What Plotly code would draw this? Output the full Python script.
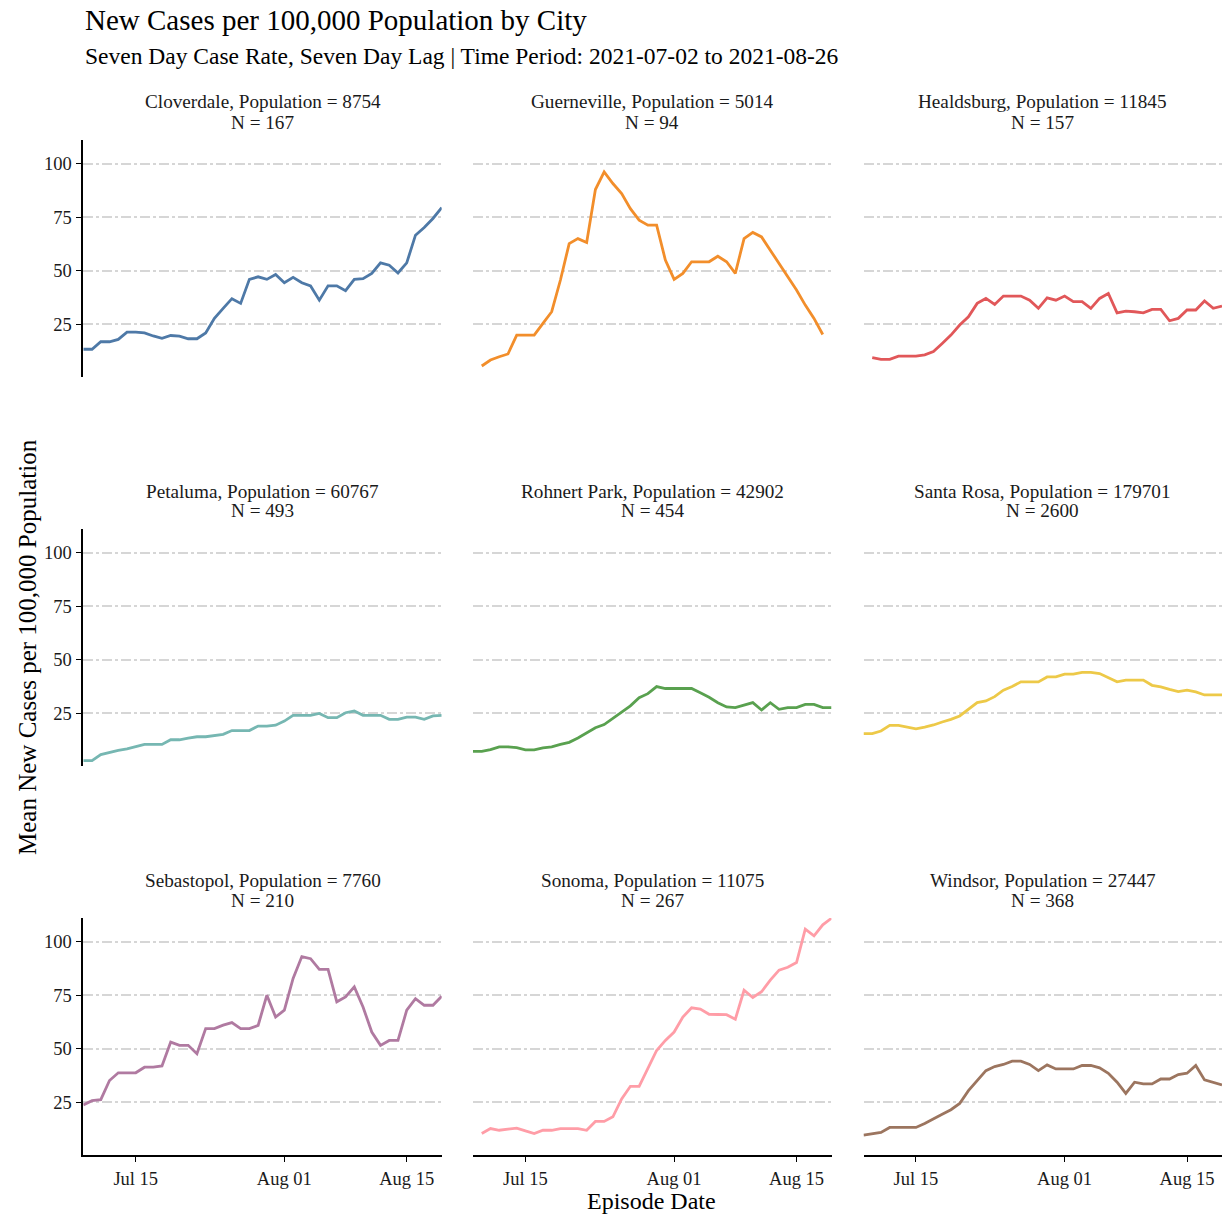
import pandas as pd
import plotly.graph_objects as go

# ---------------- data ----------------
dates = pd.date_range("2021-07-09", "2021-08-19", freq="D").strftime("%Y-%m-%d").tolist()

cities = ["Cloverdale", "Guerneville", "Healdsburg",
          "Petaluma", "Rohnert Park", "Santa Rosa",
          "Sebastopol", "Sonoma", "Windsor"]
populations = [8754, 5014, 11845, 60767, 42902, 179701, 7760, 11075, 27447]
case_counts = [167, 94, 157, 493, 454, 2600, 210, 267, 368]

cloverdale = [13.4, 13.4, 16.9, 16.9, 18.0, 21.4, 21.4, 21.0, 19.6, 18.5,
              19.8, 19.5, 18.3, 18.3, 21.0, 27.8, 32.5, 37.0, 34.8, 46.0,
              47.2, 46.0, 48.3, 44.4, 46.9, 44.4, 42.9, 36.3, 43.0, 43.0,
              40.7, 46.0, 46.3, 48.8, 53.7, 52.6, 49.0, 53.7, 66.6, 70.2,
              74.4, 79.5]
guerneville = [None, 5.6, 8.4, 9.9, 11.2, 20.0, 20.0, 20.0, 25.5, 30.9,
               45.7, 62.7, 65.0, 63.2, 87.9, 96.1, 90.7, 86.0, 79.0, 73.6,
               71.3, 71.3, 55.0, 46.0, 48.8, 54.2, 54.2, 54.2, 56.8, 54.2,
               48.8, 65.0, 67.9, 65.8, 59.6, 53.4, 46.9, 41.0, 34.0, 27.8,
               20.3, None]
healdsburg = [None, 9.5, 8.7, 8.7, 10.2, 10.2, 10.2, 10.8, 12.3, 16.1,
              20.0, 24.7, 28.5, 34.8, 37.1, 34.3, 38.2, 38.2, 38.2, 36.3,
              32.5, 37.4, 36.3, 38.2, 35.6, 35.6, 32.5, 37.1, 39.4, 30.4,
              31.2, 30.9, 30.4, 32.0, 32.0, 26.7, 27.8, 31.7, 31.7, 35.9,
              32.5, 33.5]
petaluma = [3.0, 3.0, 5.8, 6.9, 7.7, 8.4, 9.5, 10.5, 10.5, 10.5,
            12.7, 12.7, 13.5, 14.1, 14.1, 14.6, 15.2, 17.0, 17.0, 17.0,
            19.1, 19.1, 19.5, 21.4, 24.1, 24.1, 24.1, 25.0, 23.0, 23.0,
            25.3, 26.1, 24.1, 24.1, 24.1, 22.2, 22.2, 23.3, 23.3, 22.2,
            23.8, 24.1]
rohnert_park = [7.3, 7.3, 8.1, 9.4, 9.4, 9.0, 8.0, 8.0, 8.9, 9.4,
                10.5, 11.5, 13.5, 15.8, 18.3, 19.8, 22.5, 25.6, 28.5, 32.3,
                34.2, 37.5, 36.6, 36.6, 36.6, 36.6, 34.6, 32.5, 30.0, 28.0,
                27.7, 28.9, 30.0, 26.6, 30.0, 26.9, 27.7, 27.7, 29.2, 29.2,
                27.7, 27.7]
santa_rosa = [15.6, 15.6, 16.8, 19.4, 19.4, 18.6, 17.8, 18.6, 19.6, 21.0,
              22.2, 23.8, 27.0, 30.0, 30.8, 32.8, 35.8, 37.5, 39.7, 39.7,
              39.7, 42.0, 42.0, 43.3, 43.3, 44.1, 44.1, 43.6, 41.5, 39.7,
              40.5, 40.5, 40.5, 38.1, 37.4, 36.2, 35.2, 35.8, 35.0, 33.6,
              33.6, 33.6]
sebastopol = [23.8, 25.8, 26.3, 35.2, 38.8, 38.8, 38.8, 41.4, 41.4, 42.0,
              53.1, 51.6, 51.6, 47.7, 59.4, 59.4, 61.0, 62.2, 59.4, 59.4,
              60.9, 75.0, 64.8, 68.0, 82.8, 93.0, 92.0, 87.0, 87.0, 71.9,
              74.2, 78.9, 69.5, 57.8, 51.6, 53.9, 53.9, 68.0, 73.4, 70.3,
              70.3, 74.5]
sonoma = [None, 10.5, 12.8, 12.0, 12.5, 13.0, 11.7, 10.5, 12.0, 12.0,
          12.8, 12.8, 12.8, 12.0, 16.1, 16.1, 18.3, 26.6, 32.5, 32.5,
          40.6, 49.2, 53.9, 57.8, 64.8, 69.1, 68.5, 66.1, 66.0, 65.9,
          63.8, 77.3, 73.9, 76.6, 82.0, 86.7, 88.0, 90.2, 105.8, 102.7,
          107.8, 110.9]
windsor = [9.7, 10.5, 11.0, 13.3, 13.3, 13.3, 13.3, 15.2, 17.2, 19.5,
           21.6, 24.5, 30.5, 35.2, 39.8, 41.7, 42.7, 44.2, 44.2, 42.7,
           39.8, 42.5, 40.6, 40.6, 40.6, 42.2, 42.2, 41.1, 38.6, 34.4,
           29.2, 34.4, 33.6, 33.6, 35.9, 35.9, 38.0, 38.6, 42.2, 35.5,
           34.4, 33.1]

series = [cloverdale, guerneville, healdsburg, petaluma, rohnert_park,
          santa_rosa, sebastopol, sonoma, windsor]

x_tick_vals = ["2021-07-15", "2021-08-01", "2021-08-15"]
x_tick_text = ["Jul 15", "Aug 01", "Aug 15"]
y_tick_vals = [25, 50, 75, 100]

title_text = "New Cases per 100,000 Population by City"
subtitle_text = "Seven Day Case Rate, Seven Day Lag | Time Period: 2021-07-02 to 2021-08-26"
x_title = "Episode Date"
y_title = "Mean New Cases per 100,000 Population"

# ---------------- styling / layout ----------------
colors = ["#4E79A7", "#F28E2B", "#E15759", "#76B7B2", "#59A14F",
          "#EDC948", "#B07AA1", "#FF9DA7", "#9C755F"]

W, H = 1230, 1215
FONT = "Liberation Serif, Times New Roman, serif"
col_px = [(83.3, 441.7), (473.0, 831.5), (863.5, 1222.0)]
row_px = [(140.0, 376.7), (529.0, 765.7), (918.0, 1154.7)]
x_range = ["2021-07-09", "2021-08-19"]
y_range = [0.6, 111.0]

fig = go.Figure()
layout = dict(
    width=W, height=H,
    margin=dict(l=0, r=0, t=0, b=0),
    paper_bgcolor="white", plot_bgcolor="white",
    showlegend=False,
    font=dict(family=FONT, color="black"),
    template="none",
)
annotations = []

for i, (city, vals) in enumerate(zip(cities, series)):
    r, c = divmod(i, 3)
    k = i + 1
    xa = "xaxis" if k == 1 else f"xaxis{k}"
    ya = "yaxis" if k == 1 else f"yaxis{k}"
    xref = "x" if k == 1 else f"x{k}"
    yref = "y" if k == 1 else f"y{k}"
    x0, x1 = col_px[c]
    y0, y1 = row_px[r]

    fig.add_trace(go.Scatter(
        x=dates, y=vals, mode="lines", xaxis=xref, yaxis=yref,
        line=dict(color=colors[i], width=2.8), connectgaps=False,
        name=city, hoverinfo="x+y",
    ))

    bottom = (r == 2)
    left = (c == 0)
    layout[xa] = dict(
        domain=[x0 / W, x1 / W], anchor=yref, type="date",
        range=x_range, tickvals=x_tick_vals, ticktext=x_tick_text,
        showgrid=False, zeroline=False,
        showline=bottom, linecolor="black", linewidth=1.5,
        ticks="outside" if bottom else "", ticklen=6, tickwidth=1.3, tickcolor="black",
        showticklabels=bottom, automargin=False,
        tickfont=dict(family=FONT, size=18.5, color="#1a1a1a"),
    )
    layout[ya] = dict(
        domain=[1 - y1 / H, 1 - y0 / H], anchor=xref,
        range=y_range, tickvals=y_tick_vals,
        showgrid=True, gridcolor="#d6d6d6", gridwidth=1.5,
        griddash="10px,3px,3px,3px",
        zeroline=False,
        showline=left, linecolor="black", linewidth=1.5,
        ticks="outside" if left else "", ticklen=6, tickwidth=1.3, tickcolor="black",
        showticklabels=left, automargin=False,
        tickfont=dict(family=FONT, size=18.5, color="#1a1a1a"),
    )

    cx = (x0 + x1) / 2 / W
    annotations.append(dict(
        text=f"{city}, Population = {populations[i]}",
        xref="paper", yref="paper", x=cx, y=1 - (y0 - 38) / H,
        xanchor="center", yanchor="middle", showarrow=False,
        font=dict(family=FONT, size=19.2, color="#1a1a1a"),
    ))
    annotations.append(dict(
        text=f"N = {case_counts[i]}",
        xref="paper", yref="paper", x=cx, y=1 - (y0 - 18) / H,
        xanchor="center", yanchor="middle", showarrow=False,
        font=dict(family=FONT, size=19.2, color="#1a1a1a"),
    ))

annotations += [
    dict(text=title_text, xref="paper", yref="paper", x=83 / W, y=1 - 20 / H,
         xanchor="left", yanchor="middle", showarrow=False,
         font=dict(family=FONT, size=29, color="black")),
    dict(text=subtitle_text, xref="paper", yref="paper", x=83 / W, y=1 - 56 / H,
         xanchor="left", yanchor="middle", showarrow=False,
         font=dict(family=FONT, size=23.5, color="black")),
    dict(text=x_title, xref="paper", yref="paper", x=652 / W, y=1 - 1201 / H,
         xanchor="center", yanchor="middle", showarrow=False,
         font=dict(family=FONT, size=24, color="black")),
    dict(text=y_title, xref="paper", yref="paper", x=27 / W, y=1 - 647 / H,
         xanchor="center", yanchor="middle", showarrow=False, textangle=-90,
         font=dict(family=FONT, size=25, color="black")),
]
layout["annotations"] = annotations

fig.update_layout(**layout)
fig.write_html(
    "out.html",
    config={"displayModeBar": False},
    post_script="document.body.style.margin='0px';document.body.style.overflow='hidden';",
)
